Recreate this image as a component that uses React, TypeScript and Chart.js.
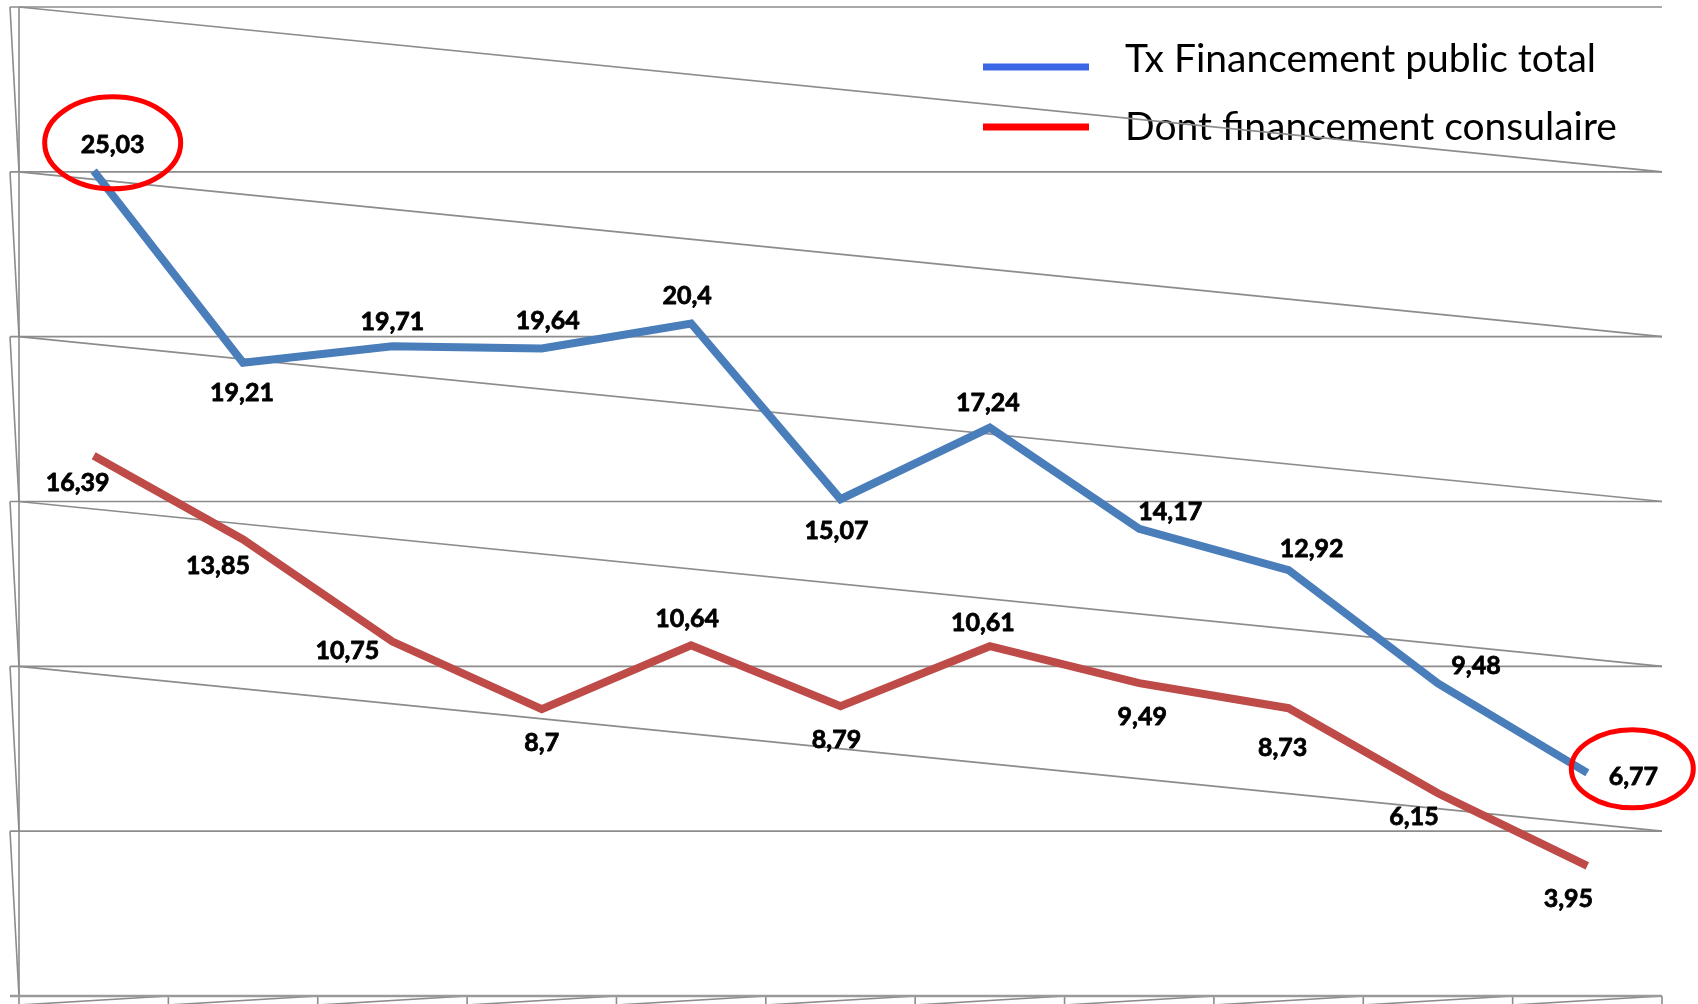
import React, { useEffect, useRef } from "react";
import { Chart, registerables } from "chart.js";

Chart.register(...registerables);

// ---- Data ----
const CATEGORIES = ["1", "2", "3", "4", "5", "6", "7", "8", "9", "10", "11"];
const SERIES_LABELS = ["Tx Financement public total", "Dont financement consulaire"];
const TOTAL_PUBLIC = [25.03, 19.21, 19.71, 19.64, 20.4, 15.07, 17.24, 14.17, 12.92, 9.48, 6.77];
const CONSULAIRE = [16.39, 13.85, 10.75, 8.7, 10.64, 8.79, 10.61, 9.49, 8.73, 6.15, 3.95];
const Y_TICKS = [0, 5, 10, 15, 20, 25, 30];

// ---- Styling ----
const LINE_COLORS = ["#4A7EBB", "#BE4B48"];
const LEGEND_COLORS = ["#3A66E6", "#FF0000"];
const GRID_COLOR = "#8C8C8C";
// data label offsets (dx, dy) from the point, per series
const LABEL_OFFSETS = [
  [[19, -27], [-1, 29], [0, -25], [6, -29], [-4, -28], [-4, 31], [-2, -26], [31, -18], [23, -22], [38, -18], [46, 3]],
  [[-16, 26], [-25, 26], [-45, 8], [0, 33], [-4, -27], [-4, 33], [-7, -24], [3, 33], [-6, 39], [-24, 23], [-19, 32]],
];
const HIGHLIGHTS = [
  { series: 0, index: 0, rx: 68, ry: 46, dx: 0, dy: -1 },
  { series: 0, index: 10, rx: 61, ry: 39, dx: -1, dy: -7 },
];

const fmt = (v: number) => String(v).replace(".", ",");

const decorPlugin = {
  id: "decor",
  beforeDatasetsDraw(chart: any) {
    const { ctx, chartArea: ca, scales } = chart;
    const x = scales.x;
    const y = scales.y;
    ctx.save();

    // Legend (drawn first, grid passes over it)
    const legendX0 = 983;
    const legendX1 = 1089;
    const markerY = [67, 127];
    const textY = [72, 140];
    ctx.lineWidth = 7;
    ctx.lineCap = "butt";
    ctx.font = "39px Lato";
    ctx.fillStyle = "#000";
    ctx.textAlign = "left";
    ctx.textBaseline = "alphabetic";
    SERIES_LABELS.forEach((lab, i) => {
      ctx.strokeStyle = LEGEND_COLORS[i];
      ctx.beginPath();
      ctx.moveTo(legendX0, markerY[i]);
      ctx.lineTo(legendX1, markerY[i]);
      ctx.stroke();
      ctx.fillText(lab, 1125, textY[i]);
    });

    const tickLen = 9;
    ctx.strokeStyle = GRID_COLOR;
    ctx.lineWidth = 1.6;
    // horizontal gridlines
    Y_TICKS.forEach((t) => {
      if (t === 0) return;
      const py = y.getPixelForValue(t);
      ctx.beginPath();
      ctx.moveTo(ca.left - tickLen, py);
      ctx.lineTo(ca.right, py);
      ctx.stroke();
    });
    // skewed diagonals
    const sorted = [...Y_TICKS].sort((a, b) => b - a);
    for (let k = 0; k < sorted.length - 2; k++) {
      ctx.beginPath();
      ctx.moveTo(ca.left, y.getPixelForValue(sorted[k]));
      ctx.lineTo(ca.right, y.getPixelForValue(sorted[k + 1]));
      ctx.stroke();
    }
    // left sawtooth
    for (let k = 0; k < sorted.length - 1; k++) {
      ctx.beginPath();
      ctx.moveTo(ca.left - tickLen, y.getPixelForValue(sorted[k]));
      ctx.lineTo(ca.left, y.getPixelForValue(sorted[k + 1]));
      ctx.stroke();
    }
    // left axis
    ctx.beginPath();
    ctx.moveTo(ca.left, ca.top);
    ctx.lineTo(ca.left, y.getPixelForValue(0));
    ctx.stroke();

    // bottom axis, ticks and slanted marks
    const y0 = y.getPixelForValue(0);
    const step = x.getPixelForValue(1) - x.getPixelForValue(0);
    const bounds: number[] = [];
    for (let i = 0; i <= CATEGORIES.length; i++) bounds.push(x.getPixelForValue(0) - step / 2 + i * step);
    for (let i = 0; i < bounds.length; i++) {
      ctx.beginPath();
      ctx.moveTo(bounds[i], y0);
      ctx.lineTo(bounds[i], y0 + tickLen);
      ctx.stroke();
      if (i < bounds.length - 1) {
        ctx.beginPath();
        ctx.moveTo(bounds[i], y0 + tickLen);
        ctx.lineTo(bounds[i + 1], y0);
        ctx.stroke();
      }
    }
    ctx.lineWidth = 2.6;
    ctx.strokeStyle = "#9A9A9A";
    ctx.beginPath();
    ctx.moveTo(ca.left - tickLen, y0);
    ctx.lineTo(ca.right, y0);
    ctx.stroke();
    ctx.restore();
  },
  afterDatasetsDraw(chart: any) {
    const { ctx } = chart;
    ctx.save();
    ctx.font = "bold 25px Lato";
    ctx.fillStyle = "#000";
    ctx.strokeStyle = "#000";
    ctx.lineWidth = 0.8;
    ctx.lineJoin = "round";
    ctx.textAlign = "center";
    ctx.textBaseline = "alphabetic";
    const centers: { x: number; y: number }[][] = [];
    chart.data.datasets.forEach((ds: any, si: number) => {
      const meta = chart.getDatasetMeta(si);
      centers[si] = [];
      meta.data.forEach((pt: any, i: number) => {
        const [dx, dy] = LABEL_OFFSETS[si][i];
        const cx = pt.x + dx;
        const cy = pt.y + dy;
        centers[si][i] = { x: cx, y: cy };
        const txt = fmt(ds.data[i]);
        ctx.fillText(txt, cx, cy + 9);
        ctx.strokeText(txt, cx, cy + 9);
      });
    });
    ctx.strokeStyle = "#FF0000";
    ctx.lineWidth = 5;
    HIGHLIGHTS.forEach((h) => {
      const c = centers[h.series][h.index];
      ctx.beginPath();
      ctx.ellipse(c.x + h.dx, c.y + h.dy, h.rx, h.ry, 0, 0, Math.PI * 2);
      ctx.stroke();
    });
    ctx.restore();
  },
};

export default function App() {
  const ref = useRef<HTMLCanvasElement | null>(null);
  useEffect(() => {
    if (!ref.current) return;
    const chart = new Chart(ref.current, {
      type: "line",
      data: {
        labels: CATEGORIES,
        datasets: [
          {
            label: SERIES_LABELS[0],
            data: TOTAL_PUBLIC,
            borderColor: LINE_COLORS[0],
            backgroundColor: LINE_COLORS[0],
            borderWidth: 8,
            pointRadius: 0,
            tension: 0,
            fill: false,
          },
          {
            label: SERIES_LABELS[1],
            data: CONSULAIRE,
            borderColor: LINE_COLORS[1],
            backgroundColor: LINE_COLORS[1],
            borderWidth: 8,
            pointRadius: 0,
            tension: 0,
            fill: false,
          },
        ],
      },
      options: {
        responsive: false,
        animation: false,
        devicePixelRatio: 1,
        layout: { padding: { left: 19, right: 36, top: 7, bottom: 8 } },
        plugins: { legend: { display: false }, tooltip: { enabled: false } },
        scales: {
          x: { type: "category", offset: true, display: false },
          y: { min: 0, max: 30, display: false },
        },
      },
      plugins: [decorPlugin],
    });
    return () => chart.destroy();
  }, []);
  return (
    <div style={{ position: "fixed", left: 0, top: 0, width: 1698, height: 1004, background: "#fff" }}>
      <canvas ref={ref} width={1698} height={1004} style={{ display: "block" }} />
    </div>
  );
}
